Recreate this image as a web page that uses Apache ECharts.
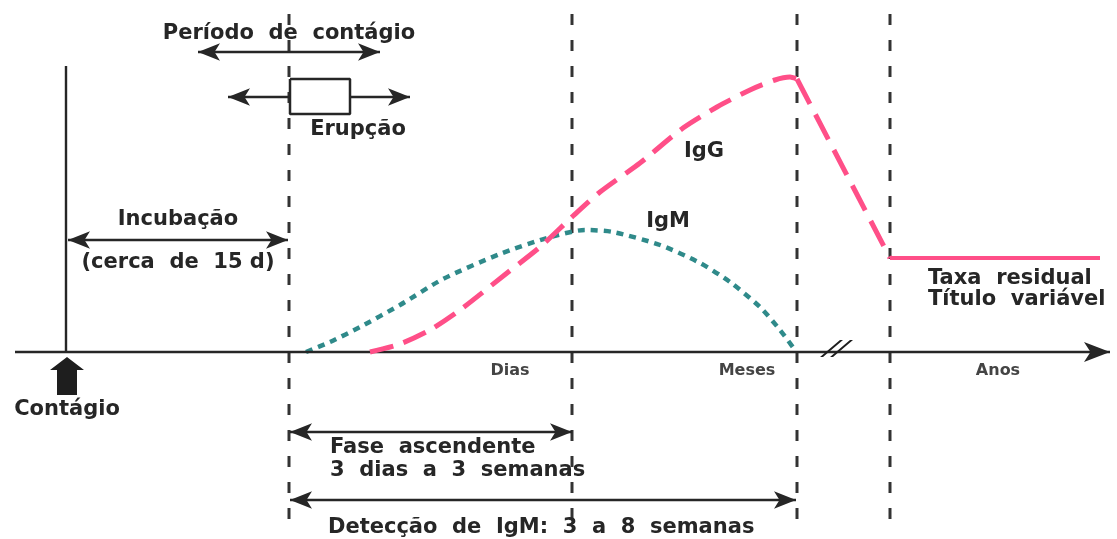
<!DOCTYPE html>
<html><head><meta charset="utf-8">
<script src="https://cdn.jsdelivr.net/npm/echarts@6/dist/echarts.min.js"></script>
<style>html,body{margin:0;padding:0;background:#fff}#c{width:1117px;height:539px}</style>
</head><body><div id="c"></div>
<script>
// ---- schematic time units (0 = contágio) and relative antibody titre ----
const phaseLinesX = [22.3, 50.6, 73.1, 82.4];       // erupção, fim fase ascendente, fim IgM, início anos
const phaseLineTop = 33.8, phaseLineBottom = -17.3;

const igmX = [24.0, 26.4, 29.4, 33.4, 37.7, 43.4, 48.1, 51.9, 54.7, 59.4, 63.4, 66.4, 69.4, 71.4, 72.9];
const igmY = [0.0, 1.0, 2.5, 4.7, 7.3, 9.8, 11.4, 12.2, 12.0, 10.7, 8.9, 7.0, 4.5, 2.2, 0.2];

const iggRiseX = [30.4, 33.4, 36.4, 39.4, 44.1, 47.4, 50.7, 53.4, 57.4, 61.7, 65.1, 68.4, 70.9, 72.4, 73.1];
const iggRiseY = [0.0, 0.8, 2.2, 4.2, 7.9, 10.5, 13.6, 16.0, 18.9, 22.4, 24.5, 26.2, 27.2, 27.5, 27.3];
const iggFallX = [73.1, 82.4];
const iggFallY = [27.3, 9.4];
const residualX = [82.4, 103.4];
const residualY = [9.4, 9.4];

const timeLabels = ['Dias', 'Meses', 'Anos'];
const timeLabelX = [44.4, 68.1, 93.2];
const timeLabelY = -1.85;

// arrows: [x1, y1, x2, y2, double]
const arrowsData = [
  [13.2, 30.0, 31.4, 30.0, true],    // período de contágio
  [22.4, 25.5, 16.2, 25.5, false],   // erupção esquerda
  [28.4, 25.5, 34.4, 25.5, false],   // erupção direita
  [0.2, 11.2, 22.2, 11.2, true],     // incubação
  [22.4, -8.0, 50.6, -8.0, true],    // fase ascendente
  [22.4, -14.8, 73.0, -14.8, true]   // detecção IgM
];
const rashBox = [[22.4, 27.3], [28.4, 27.3], [28.4, 23.8], [22.4, 23.8], [22.4, 27.3]];

// centred labels: [text, x, y]
const centerTexts = [
  ['Período  de  contágio', 22.3, 31.8],
  ['Erupção', 29.2, 22.2],
  ['IgG', 63.8, 20.0],
  ['IgM', 60.2, 13.0],
  ['Incubação', 11.2, 13.2],
  ['(cerca  de  15 d)', 11.2, 8.9],
  ['Contágio', 0.1, -5.8]
];
// left aligned labels
const leftTexts = [
  ['Taxa  residual', 86.2, 7.3],
  ['Título  variável', 86.2, 5.2],
  ['Fase  ascendente', 26.4, -9.6],
  ['3  dias  a  3  semanas', 26.4, -11.9],
  ['Detecção  de  IgM:  3  a  8  semanas', 26.2, -17.6]
];

const zip = (xs, ys) => xs.map((x, i) => [x, ys[i]]);
const ink = '#262626';
const pink = '#ff4f88';
const teal = '#2f8a8a';
const font = {fontFamily: 'DejaVu Sans', fontWeight: 'bold', color: ink, fontSize: 21};

const chart = echarts.init(document.getElementById('c'), null, {renderer: 'canvas'});

const series = [];
// dashed phase lines
phaseLinesX.forEach(x => series.push({
  type: 'line', data: [[x, phaseLineTop], [x, phaseLineBottom]], symbol: 'none', silent: true,
  lineStyle: {color: '#333', width: 3, type: [11, 15]}, z: 1
}));
// rash box
series.push({type: 'line', data: rashBox, symbol: 'none', silent: true,
  lineStyle: {color: ink, width: 2.5}, z: 3});
// arrows + axis + contágio line
series.push({
  type: 'line', data: [], silent: true,
  markLine: {
    silent: true, animation: false, label: {show: false}, emphasis: {disabled: true},
    symbolSize: [13, 22],
    data: [
      [{coord: [-5.1, 0], symbol: 'none'}, {coord: [104.4, 0], symbol: 'arrow', symbolSize: [15, 26]}],
      [{coord: [0, 0], symbol: 'none'}, {coord: [0, 28.6], symbol: 'none'}],
      ...arrowsData.map(a => [
        {coord: [a[0], a[1]], symbol: a[4] ? 'arrow' : 'none'},
        {coord: [a[2], a[3]], symbol: 'arrow'}
      ])
    ],
    lineStyle: {color: ink, width: 2.4, type: 'solid'}
  }
});
// antibody curves
series.push({type: 'line', data: zip(igmX, igmY), smooth: 0.25, symbol: 'none', silent: true,
  lineStyle: {color: teal, width: 4.5, type: [7, 6]}, z: 4});
series.push({type: 'line', data: zip(iggRiseX, iggRiseY), smooth: 0.25, symbol: 'none', silent: true,
  lineStyle: {color: pink, width: 5, type: [24, 11]}, z: 5});
series.push({type: 'line', data: zip(iggFallX, iggFallY), symbol: 'none', silent: true,
  lineStyle: {color: pink, width: 5, type: [28, 12]}, z: 5});
series.push({type: 'line', data: zip(residualX, residualY), symbol: 'none', silent: true,
  lineStyle: {color: pink, width: 4}, z: 5});
// contágio thick up arrow and axis break
series.push({type: 'scatter', silent: true, z: 6,
  data: [{value: [0.1, -2.4], symbol: 'path://M17,0 L34,13 L27,13 L27,38 L7,38 L7,13 L0,13 Z', symbolSize: [34, 38]},
         {value: [77.05, 0.35], symbol: 'path://M0,17 L20,0 L23,0 L3,17 Z M10,17 L30,0 L33,0 L13,17 Z', symbolSize: [33, 17]}],
  itemStyle: {color: '#1e1e1e', opacity: 1}});
// texts
series.push({type: 'scatter', symbolSize: 0, silent: true, z: 7, itemStyle: {opacity: 1},
  data: centerTexts.map(t => ({value: [t[1], t[2]], label: {show: true, position: 'inside', formatter: t[0], ...font}}))
    .concat(leftTexts.map(t => ({value: [t[1], t[2]], label: {show: true, position: 'right', distance: 0, formatter: t[0], ...font}})))
    .concat(timeLabels.map((t, i) => ({value: [timeLabelX[i], timeLabelY], label: {show: true, position: 'inside', formatter: t, ...font, fontSize: 16, color: '#444'}})))
});

chart.setOption({
  animation: false,
  grid: {left: 12, right: 5, top: 2, bottom: 0},
  xAxis: {type: 'value', min: -5.4, max: 104.6, show: false},
  yAxis: {type: 'value', min: -18.7, max: 35, show: false},
  series
});
</script></body></html>
